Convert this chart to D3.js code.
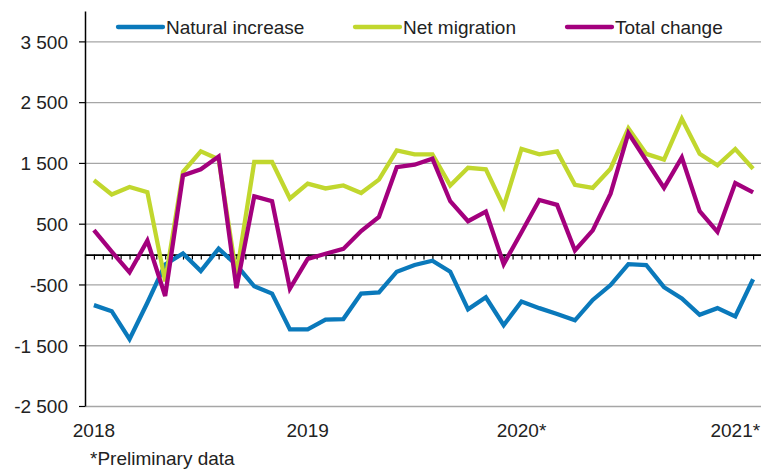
<!DOCTYPE html>
<html>
<head>
<meta charset="utf-8">
<script src="https://cdn.jsdelivr.net/npm/d3@7"></script>
<style>
  html, body { margin: 0; padding: 0; background: #fff; }
  svg text { font-family: "Liberation Sans", Arial, sans-serif; fill: #222; }
</style>
</head>
<body>
<div id="chart"></div>
<script>
// months Jan 2018 .. Feb 2021
var months = [];
for (var yr = 2018; yr <= 2021; yr++) {
  for (var m = 1; m <= 12; m++) {
    if (yr == 2021 && m > 2) break;
    months.push(yr + "-" + (m < 10 ? "0" + m : m));
  }
}

var naturalIncrease = [-840, -940, -1400, -800, -170, 10, -280, 90, -180, -530,
  -650, -1240, -1240, -1080, -1070, -650, -630, -290, -180, -110,
  -290, -910, -710, -1170, -780, -890, -985, -1090, -755, -510,
  -165, -180, -545, -730, -1000, -890, -1025, -415];

var netMigration = [1215, 980, 1105, 1020, -450, 1350, 1690, 1560, -350, 1515,
  1515, 915, 1160, 1080, 1130, 1005, 1225, 1705, 1640, 1640,
  1130, 1420, 1395, 780, 1730, 1640, 1690, 1140, 1090, 1405,
  2070, 1650, 1555, 2225, 1650, 1460, 1730, 1405];

var totalChange = [395, 40, -300, 220, -690, 1295, 1395, 1605, -560, 950,
  870, -570, -80, 5, 85, 380, 610, 1430, 1470, 1570,
  870, 540, 700, -165, 360, 890, 810, 60, 390, 995,
  1990, 1540, 1090, 1590, 705, 365, 1170, 1015];

var yTicks = [3500, 2500, 1500, 500, -500, -1500, -2500];
var yearLabels = ["2018", "2019", "2020*", "2021*"];
var yearStart = ["2018-01", "2019-01", "2020-01", "2021-01"];

var seriesNames = ["Natural increase", "Net migration", "Total change"];
var seriesColors = ["#0a79bb", "#c1d72e", "#a3007d"];
var seriesValues = [naturalIncrease, netMigration, totalChange];

var W = 761, H = 469, FS = 19;
var svg = d3.select("#chart").append("svg")
  .attr("width", W).attr("height", H);

var x = d3.scaleBand().domain(months).range([85, 762]);
var y = d3.scaleLinear().domain([-2500, 4000]).range([406, 11]);
var xt = d3.scaleLinear().domain([0, months.length]).range([85, 762]);

var fmt = d3.formatLocale({ decimal: ",", thousands: " ", grouping: [3], currency: ["", ""], minus: "-" }).format(",d");

// gridlines
svg.append("g").selectAll("line")
  .data(yTicks)
  .enter().append("line")
  .attr("x1", 85).attr("x2", 762)
  .attr("y1", function(d) { return y(d) + 0.5; })
  .attr("y2", function(d) { return y(d) + 0.5; })
  .attr("stroke", "#a6a6a6")
  .attr("stroke-width", 1.3);

// y axis
var yAxis = svg.append("g")
  .attr("transform", "translate(85,0)")
  .call(d3.axisLeft(y).tickValues(yTicks).tickSize(6).tickSizeOuter(0).tickPadding(11).tickFormat(fmt));
yAxis.select(".domain").attr("stroke", "#000").attr("stroke-width", 1.5);
yAxis.selectAll(".tick line").attr("stroke", "#000").attr("stroke-width", 1.2);
yAxis.selectAll(".tick text")
  .attr("font-size", FS)
  .attr("font-family", "Liberation Sans, Arial, sans-serif")
  .attr("fill", "#222")
  .attr("dy", "0.36em");

// zero line with half-month ticks
var xAxis = svg.append("g")
  .attr("transform", "translate(0," + (y(0) + 0.5) + ")")
  .call(d3.axisBottom(xt).tickValues(d3.range(0, months.length + 0.25, 0.5)).tickSize(5).tickSizeOuter(0).tickFormat(""));
xAxis.select(".domain").attr("stroke", "#000").attr("stroke-width", 1.6);
xAxis.selectAll(".tick line").attr("stroke", "#000").attr("stroke-width", 1.2);

// year labels
svg.append("g").selectAll("text")
  .data(yearLabels)
  .enter().append("text")
  .attr("x", function(d, i) { return x(yearStart[i]) + x.bandwidth() / 2; })
  .attr("y", 437)
  .attr("text-anchor", "middle")
  .attr("font-size", FS)
  .text(function(d) { return d; });

// lines
var line = d3.line()
  .x(function(d, i) { return x(months[i]) + x.bandwidth() / 2; })
  .y(function(d) { return y(d); });

svg.append("g").selectAll("path")
  .data(seriesValues)
  .enter().append("path")
  .attr("d", function(d) { return line(d); })
  .attr("fill", "none")
  .attr("stroke", function(d, i) { return seriesColors[i]; })
  .attr("stroke-width", 4.3)
  .attr("stroke-linejoin", "miter");

// legend
var legendX = [118, 355, 567];
var lg = svg.append("g").selectAll("g")
  .data(seriesNames)
  .enter().append("g")
  .attr("transform", function(d, i) { return "translate(" + legendX[i] + ",27)"; });
lg.append("line")
  .attr("x1", 0).attr("x2", 45)
  .attr("stroke", function(d, i) { return seriesColors[i]; })
  .attr("stroke-width", 4.3)
  .attr("stroke-linecap", "round");
lg.append("text")
  .attr("x", 48)
  .attr("dy", "0.35em")
  .attr("font-size", FS)
  .text(function(d) { return d; });

// note
svg.append("text")
  .attr("x", 90).attr("y", 465)
  .attr("font-size", FS)
  .text("*Preliminary data");
</script>
</body>
</html>
